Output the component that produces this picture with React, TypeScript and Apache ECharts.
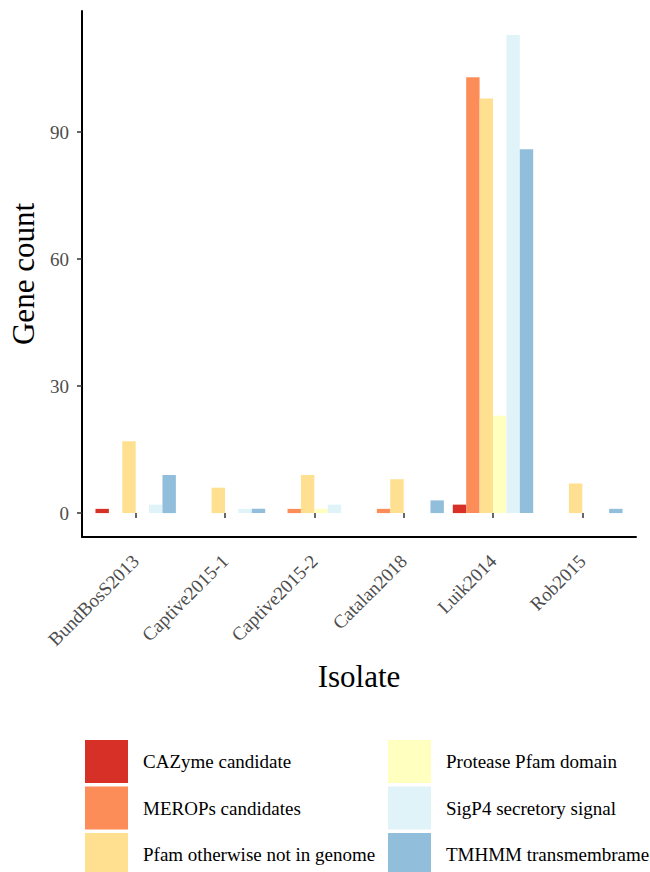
import React, { useEffect, useRef } from "react";
import * as echarts from "echarts";

const categories = ["BundBosS2013", "Captive2015-1", "Captive2015-2", "Catalan2018", "Luik2014", "Rob2015"];
const seriesNames = [
  "CAZyme candidate",
  "MEROPs candidates",
  "Pfam otherwise not in genome",
  "Protease Pfam domain",
  "SigP4 secretory signal",
  "TMHMM transmembrame",
];
const cazyme = [1, 0, 0, 0, 2, 0];
const merops = [0, 0, 1, 1, 103, 0];
const pfam = [17, 6, 9, 8, 98, 7];
const protease = [0, 0, 1, 0, 23, 0];
const sigp4 = [2, 1, 2, 0, 113, 0];
const tmhmm = [9, 1, 0, 3, 86, 1];
const yTicks = [0, 30, 60, 90];
const colors = ["#d73027", "#fc8d59", "#fee090", "#ffffbf", "#e0f3f8", "#91bfdb"];

const FONT = "'Liberation Serif', 'DejaVu Serif', serif";

export default function App() {
  const ref = useRef<HTMLDivElement>(null);
  useEffect(() => {
    if (!ref.current) return;
    const chart = echarts.init(ref.current, undefined, { renderer: "svg" });
    const values = [cazyme, merops, pfam, protease, sigp4, tmhmm];
    const legendText = { fontFamily: FONT, fontSize: 19, color: "#000", padding: [0, 0, 0, 10] };
    const legendBase = {
      orient: "vertical",
      top: 740,
      padding: 0,
      itemWidth: 43,
      itemHeight: 43,
      itemGap: 3.5,
      icon: "rect",
      height: 200,
      textStyle: legendText,
    };
    chart.setOption({
      animation: false,
      backgroundColor: "#fff",
      color: colors,
      grid: [
        { left: 91, right: 23, top: 11, bottom: 335 },
        { left: 82, right: 14, top: 11, bottom: 335 },
      ],
      legend: [
        { ...legendBase, data: seriesNames.slice(0, 3), left: 85 },
        { ...legendBase, data: seriesNames.slice(3), left: 388 },
      ],
      xAxis: [
        {
          type: "category",
          gridIndex: 0,
          data: categories,
          name: "Isolate",
          nameLocation: "middle",
          nameGap: 124,
          nameTextStyle: { fontFamily: FONT, fontSize: 31, color: "#000" },
          axisLine: { show: false },
          axisTick: { show: true, alignWithLabel: true, length: 5, lineStyle: { color: "#333", width: 1.5 } },
          axisLabel: { rotate: 45, fontFamily: FONT, fontSize: 19, color: "#4d4d4d", margin: 21 },
          splitLine: { show: false },
        },
        {
          type: "value",
          gridIndex: 1,
          min: 0,
          max: 1,
          axisLine: { show: true, lineStyle: { color: "#000", width: 2 } },
          axisTick: { show: false },
          axisLabel: { show: false },
          splitLine: { show: false },
        },
      ],
      yAxis: [
        {
          type: "value",
          gridIndex: 0,
          min: -5.65,
          max: 118.65,
          offset: 9,
          name: "Gene count",
          nameLocation: "middle",
          nameGap: 38,
          nameTextStyle: { fontFamily: FONT, fontSize: 31, color: "#000" },
          axisLine: { show: true, lineStyle: { color: "#000", width: 2 } },
          axisTick: { show: true, length: 5, customValues: yTicks, lineStyle: { color: "#333", width: 1.5 } },
          axisLabel: { customValues: yTicks, fontFamily: FONT, fontSize: 19, color: "#4d4d4d", margin: 13 },
          splitLine: { show: false },
        },
        {
          type: "value",
          gridIndex: 1,
          show: false,
          min: 0,
          max: 1,
          splitLine: { show: false },
        },
      ],
      series: seriesNames.map((name, i) => ({
        name,
        type: "bar",
        xAxisIndex: 0,
        yAxisIndex: 0,
        data: values[i],
        barGap: "0%",
        barCategoryGap: "10%",
        itemStyle: { color: colors[i] },
      })),
    });
    return () => chart.dispose();
  }, []);
  return <div ref={ref} style={{ position: "fixed", left: 0, top: 0, width: 650, height: 872 }} />;
}
